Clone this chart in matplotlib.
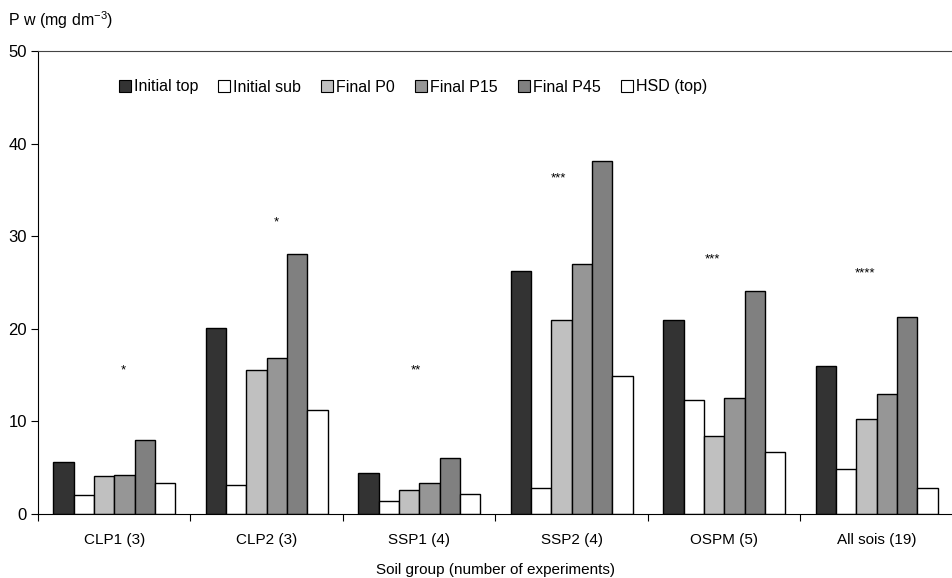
import matplotlib
matplotlib.use("Agg")
import matplotlib.pyplot as plt
import numpy as np

plt.rcParams['font.family'] = ['Liberation Sans', 'DejaVu Sans']
plt.rcParams['mathtext.fontset'] = 'custom'
plt.rcParams['mathtext.rm'] = 'Liberation Sans'
plt.rcParams['mathtext.default'] = 'regular'

groups = ["CLP1 (3)", "CLP2 (3)", "SSP1 (4)", "SSP2 (4)", "OSPM (5)", "All sois (19)"]
series_names = ["Initial top", "Initial sub", "Final P0", "Final P15", "Final P45", "HSD (top)"]
initial_top = [5.6, 20.1, 4.4, 26.2, 21.0, 16.0]
initial_sub = [2.0, 3.1, 1.4, 2.8, 12.3, 4.9]
final_p0 = [4.1, 15.6, 2.6, 20.9, 8.4, 10.3]
final_p15 = [4.2, 16.9, 3.4, 27.0, 12.5, 13.0]
final_p45 = [8.0, 28.1, 6.0, 38.1, 24.1, 21.3]
hsd_top = [3.3, 11.2, 2.2, 14.9, 6.7, 2.8]
stars = ["*", "*", "**", "***", "***", "****"]
star_y = [15.5, 31.5, 15.5, 36.2, 27.5, 26.0]

values = [initial_top, initial_sub, final_p0, final_p15, final_p45, hsd_top]
colors = ["#333333", "#ffffff", "#c0c0c0", "#969696", "#808080", "#ffffff"]

fig = plt.figure(figsize=(9.53, 5.78), dpi=100)
ax = fig.add_axes([38/953, 1 - 514/578, 1 - 38/953, (514 - 51)/578])

x = np.arange(len(groups))
w = 0.8 / 6
for k, (vals, c, name) in enumerate(zip(values, colors, series_names)):
    ax.bar(x - 0.4 + w * (k + 0.5), vals, width=w, color=c, edgecolor="black",
           linewidth=1.0, label=name)

star_dx = [0.06, 0.06, -0.02, -0.09, -0.08, -0.08]
for i, (s, yv) in enumerate(zip(stars, star_y)):
    ax.text(x[i] + star_dx[i], yv, s, ha="center", va="center", fontsize=9.5)

ax.set_xlim(-0.5, len(groups) - 0.5)
ax.set_ylim(0, 50)
ax.set_yticks([0, 10, 20, 30, 40, 50])
ax.set_xticks(x)
ax.set_xticklabels(groups, fontsize=11)
ax.set_xticks(np.arange(len(groups) + 1) - 0.5, minor=True)
ax.tick_params(axis="x", which="major", length=0, pad=14)
ax.tick_params(axis="x", which="minor", length=5, direction="out", width=0.8)
ax.tick_params(axis="y", length=5, direction="out", labelsize=12, width=0.8, pad=3)
ax.spines["right"].set_visible(False)
ax.spines["top"].set_linewidth(0.8)
ax.spines["left"].set_linewidth(0.8)
ax.spines["bottom"].set_linewidth(0.8)
ax.spines["top"].set_color("#444444")

ax.set_xlabel("Soil group (number of experiments)", fontsize=11, labelpad=11)
fig.text(8/953, 1 - 20/578, "P w (mg dm$^{-3}$)", fontsize=11.5, va="center", ha="left")

leg = ax.legend(loc="center", bbox_to_anchor=((413 - 38) / 915, (514 - 87) / 463), ncol=6,
                frameon=False, fontsize=11.5, handlelength=0.75, handleheight=0.75,
                handletextpad=0.2, columnspacing=1.25, borderpad=0)
for h in leg.legend_handles:
    h.set_linewidth(0.8)

fig.savefig("out.png", dpi=100)
